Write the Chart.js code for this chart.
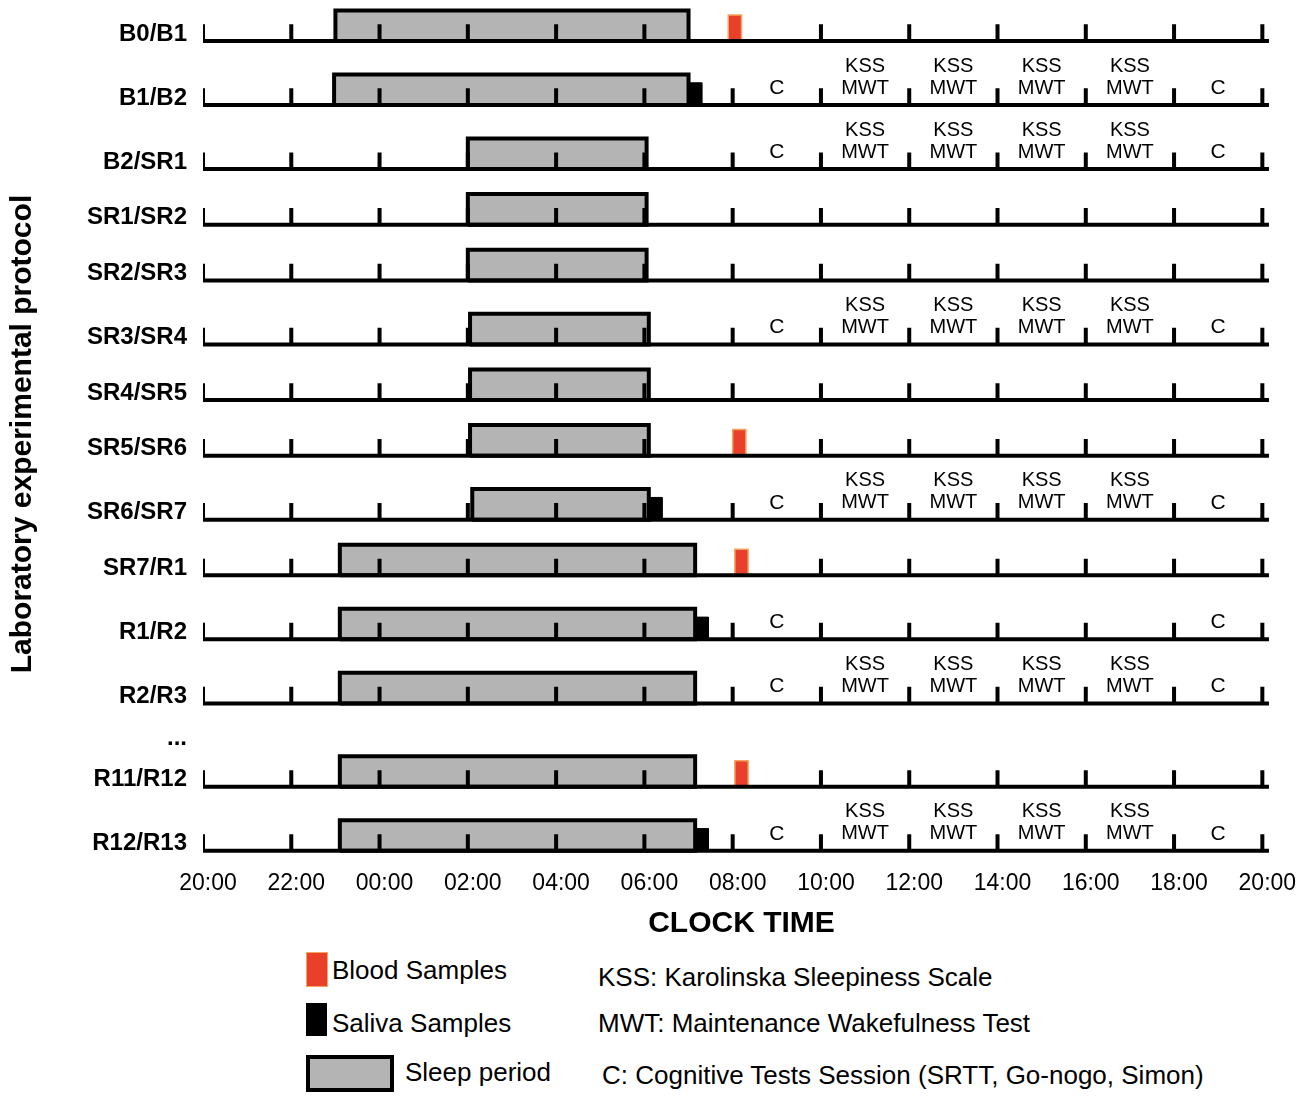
<!DOCTYPE html>
<html>
<head>
<meta charset="utf-8">
<script src="https://cdn.jsdelivr.net/npm/chart.js@4.4.0/dist/chart.umd.min.js"></script>
<style>
  body { margin: 0; background: #fff; font-family: "Liberation Sans", Arial, sans-serif; }
  #wrap { position: relative; width: 1300px; height: 1103px; }
  canvas { position: absolute; left: 0; top: 0; }
  .sw { position: absolute; }
  .lt { position: absolute; font-size: 26px; color: #000; line-height: 1; white-space: nowrap; }
</style>
</head>
<body>
<div id="wrap">
  <canvas id="protocolChart" width="1300" height="950"></canvas>

  <div class="sw" style="left:306px;top:952px;width:20px;height:33px;background:#e8402a;border:1px solid #f3a45e;"></div>
  <div class="lt" style="left:332px;top:957px;">Blood Samples</div>
  <div class="sw" style="left:306px;top:1003px;width:21px;height:33px;background:#000;"></div>
  <div class="lt" style="left:332px;top:1010px;">Saliva Samples</div>
  <div class="sw" style="left:306px;top:1055px;width:80px;height:29px;background:#b4b4b4;border:4px solid #000;"></div>
  <div class="lt" style="left:405px;top:1059px;">Sleep period</div>

  <div class="lt" style="left:598px;top:964px;">KSS: Karolinska Sleepiness Scale</div>
  <div class="lt" style="left:598px;top:1010px;">MWT: Maintenance Wakefulness Test</div>
  <div class="lt" style="left:602px;top:1062px;">C: Cognitive Tests Session (SRTT, Go-nogo, Simon)</div>
</div>

<script>
// Rows of the protocol (top to bottom), "..." is the skipped block
const rows = ["B0/B1", "B1/B2", "B2/SR1", "SR1/SR2", "SR2/SR3", "SR3/SR4", "SR4/SR5", "SR5/SR6",
              "SR6/SR7", "SR7/R1", "R1/R2", "R2/R3", "...", "R11/R12", "R12/R13"];

// Clock labels, one every 2 hours starting at 20:00 (hour 0)
const hourLabels = ["20:00", "22:00", "00:00", "02:00", "04:00", "06:00", "08:00",
                    "10:00", "12:00", "14:00", "16:00", "18:00", "20:00"];
const tickHours = [0, 2, 4, 6, 8, 10, 12, 14, 16, 18, 20, 22, 24];

// Sleep period per row, in hours after 20:00
const sleepStart = [3, 2.97, 6, 6, 6, 6.05, 6.05, 6.05, 6.1, 3.1, 3.1, 3.1, null, 3.1, 3.1];
const sleepEnd   = [11, 11, 10.05, 10.05, 10.05, 10.1, 10.1, 10.1, 10.1, 11.15, 11.15, 11.15, null, 11.15, 11.15];

// Blood samples (red)
const bloodRows  = ["B0/B1", "SR5/SR6", "SR7/R1", "R11/R12"];
const bloodStart = [11.9, 12.0, 12.05, 12.05];

// Saliva samples (black)
const salivaRows  = ["B1/B2", "SR6/SR7", "R1/R2", "R12/R13"];
const salivaStart = [11, 10.1, 11.15, 11.15];

// Test sessions
const kssRows  = ["B1/B2", "B2/SR1", "SR3/SR4", "SR6/SR7", "R2/R3", "R12/R13"];
const kssHours = [15, 17, 19, 21];
const cRows    = ["B1/B2", "B2/SR1", "SR3/SR4", "SR6/SR7", "R1/R2", "R2/R3", "R12/R13"];
const cHours   = [13, 23];

const FONT = '"Liberation Sans", Arial, Helvetica, sans-serif';
const TICK_H = 0.3, BOX_H = 0.55, SAMPLE_W = 0.3;

// Row layout: rows carrying test labels get a bit more room, the "..." gap less
const rowPos = [];
rows.forEach((r, i) => {
    if (i === 0) { rowPos.push(0); return; }
    let gap = 1;
    if (r === "..." || rows[i - 1] === "...") gap = 0.75;
    else if (cRows.includes(r)) gap = 1.15;
    rowPos.push(rowPos[i - 1] + gap);
});

function rect(x0, x1, y0, h) {
    return [{x: x0, y: y0}, {x: x0, y: y0 - h}, {x: x1, y: y0 - h}, {x: x1, y: y0}, {x: x0, y: y0}];
}

// Baselines + hour ticks
const baseData = [];
const tickData = [];
rows.forEach((r, i) => {
    if (r === "...") return;
    const y = rowPos[i];
    baseData.push({x: 0, y: y}, {x: 24.15, y: y}, {x: 24.15, y: null});
    tickHours.forEach(h => {
        if (h === 12 && bloodRows.includes(r)) return;
        tickData.push({x: h, y: y}, {x: h, y: y - TICK_H}, {x: h, y: null});
    });
});

const datasets = [
    {data: tickData, borderColor: "#000", borderWidth: 4, borderCapStyle: "butt", order: 0},
    {data: baseData, borderColor: "#000", borderWidth: 4, borderCapStyle: "butt", order: 0}
];

bloodRows.forEach((r, k) => {
    const y = rowPos[rows.indexOf(r)];
    datasets.push({data: rect(bloodStart[k], bloodStart[k] + SAMPLE_W, y - 0.02, 0.45),
        fill: "shape", backgroundColor: "#e8402a", borderColor: "#f3a45e", borderWidth: 1.5, order: 1});
});

salivaRows.forEach((r, k) => {
    const y = rowPos[rows.indexOf(r)];
    datasets.push({data: rect(salivaStart[k], salivaStart[k] + SAMPLE_W, y, 0.4),
        fill: "shape", backgroundColor: "#000", borderColor: "#000", borderWidth: 1, order: 1});
});

rows.forEach((r, i) => {
    if (sleepStart[i] === null) return;
    datasets.push({data: rect(sleepStart[i], sleepEnd[i], rowPos[i], BOX_H),
        fill: "shape", backgroundColor: "#b4b4b4", borderColor: "#000", borderWidth: 4,
        borderJoinStyle: "miter", order: 2});
});

datasets.forEach(d => {
    d.showLine = true;
    d.pointRadius = 0;
    d.spanGaps = false;
    if (!d.fill) d.fill = false;
});

// KSS / MWT / C labels
const sessionText = {
    id: "sessionText",
    afterDatasetsDraw(chart) {
        const {ctx, scales: {x, y}} = chart;
        ctx.save();
        ctx.fillStyle = "#000";
        ctx.textAlign = "center";
        ctx.textBaseline = "middle";
        ctx.font = "21px " + FONT;
        cRows.forEach(r => {
            const py = y.getPixelForValue(rowPos[rows.indexOf(r)]);
            cHours.forEach(h => ctx.fillText("C", x.getPixelForValue(h), py - 17));
        });
        ctx.font = "20px " + FONT;
        kssRows.forEach(r => {
            const py = y.getPixelForValue(rowPos[rows.indexOf(r)]);
            kssHours.forEach(h => {
                ctx.fillText("KSS", x.getPixelForValue(h), py - 39);
                ctx.fillText("MWT", x.getPixelForValue(h), py - 17);
            });
        });
        ctx.restore();
    }
};

const lastPos = rowPos[rowPos.length - 1];

new Chart(document.getElementById("protocolChart").getContext("2d"), {
    type: "scatter",
    data: {datasets: datasets},
    plugins: [sessionText],
    options: {
        responsive: false,
        animation: false,
        layout: {padding: {top: 6, right: 20, left: 0, bottom: 0}},
        plugins: {legend: {display: false}, tooltip: {enabled: false}},
        scales: {
            x: {
                type: "linear", min: 0, max: 24.4,
                grid: {display: false}, border: {display: false},
                afterBuildTicks: s => { s.ticks = tickHours.map(v => ({value: v})); },
                afterFit: s => { s.height = 88; s.paddingLeft = 0; s.paddingRight = 0; },
                ticks: {
                    callback: v => hourLabels[v / 2],
                    font: {family: FONT, size: 23}, color: "#000",
                    padding: 0, labelOffset: 5, maxRotation: 0, autoSkip: false
                },
                title: {display: true, text: "CLOCK TIME", color: "#000",
                        font: {family: FONT, size: 30, weight: "bold"}, padding: {top: 8, bottom: 8}}
            },
            y: {
                type: "linear", reverse: true, min: -0.63, max: lastPos + 0.2,
                grid: {display: false}, border: {display: false},
                afterBuildTicks: s => { s.ticks = rowPos.map(v => ({value: v})); },
                afterFit: s => { s.width = 203; s.paddingTop = 0; s.paddingBottom = 0; },
                ticks: {
                    callback: (v, i) => rows[i],
                    font: {family: FONT, size: 24, weight: "bold"}, color: "#000",
                    padding: 8, labelOffset: -7, autoSkip: false
                },
                title: {display: true, text: "Laboratory experimental protocol", color: "#000",
                        font: {family: FONT, size: 30, weight: "bold"}, padding: {top: 5, bottom: 5}}
            }
        }
    }
});
</script>
</body>
</html>
